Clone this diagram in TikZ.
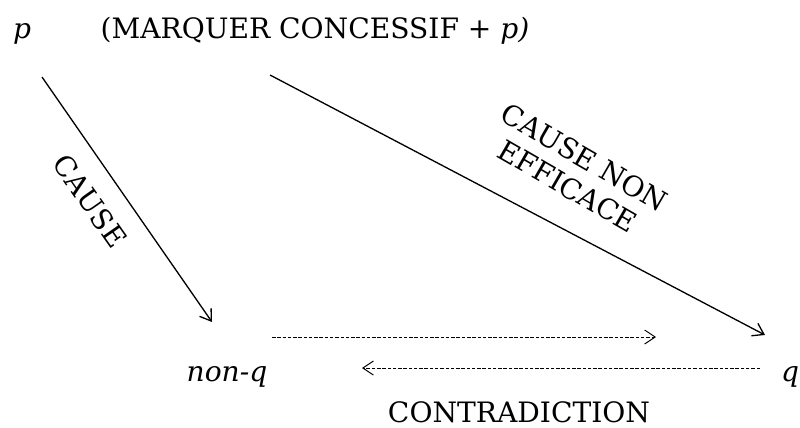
\documentclass[tikz,border=0pt]{standalone}
\usepackage{fontspec}
\setmainfont{DejaVu Serif}
\usepackage{tikz}
\usetikzlibrary{arrows.meta}
\pgfdeclarelayer{edgelayer}
\pgfdeclarelayer{nodelayer}
\pgfsetlayers{edgelayer,nodelayer,main}
\tikzstyle{term}=[inner sep=0pt, anchor=base, font=\fontsize{16}{19}\selectfont]
\tikzstyle{label}=[inner sep=0pt, font=\fontsize{16}{19}\selectfont]
\tikzstyle{edge}=[draw=black, -{Straight Barb[length=6pt, width=8pt]}, line width=0.75pt]
\tikzstyle{dashedge}=[draw=black, -{Straight Barb[length=6pt, width=8pt]}, dash pattern=on 2pt off 1pt, line width=0.55pt]
\begin{document}
\begin{tikzpicture}[x=0.02cm, y=-0.02cm]
	\useasboundingbox (0, 0) rectangle (800, 427);
	\begin{pgfonlayer}{nodelayer}
		\node [style=term] (p) at (22, 38) {\itshape p};
		\node [style=term] (mc) at (315, 38) {(MARQUER CONCESSIF + \textit{p)}};
		\node [style=term] (nonq) at (227, 381) {\itshape non-q};
		\node [style=term] (q) at (790, 381) {\itshape q};
		\node [style=term] (contr) at (519, 422) {CONTRADICTION};
		\node [style=label, rotate=-55] (cause) at (90, 201) {CAUSE};
		\node [style=label, rotate=-30, align=center] (cne) at (576, 172) {CAUSE NON\\EFFICACE};
		\coordinate (a1) at (42, 77);
		\coordinate (a2) at (212, 322);
		\coordinate (b1) at (270, 75);
		\coordinate (b2) at (765, 335);
		\coordinate (c1) at (272, 337);
		\coordinate (c2) at (656, 337);
		\coordinate (d1) at (760, 368);
		\coordinate (d2) at (362, 368);
	\end{pgfonlayer}
	\begin{pgfonlayer}{edgelayer}
		\draw [style=edge] (a1) to (a2);
		\draw [style=edge] (b1) to (b2);
		\draw [style=dashedge] (c1) to (c2);
		\draw [style=dashedge] (d1) to (d2);
	\end{pgfonlayer}
\end{tikzpicture}
\end{document}
